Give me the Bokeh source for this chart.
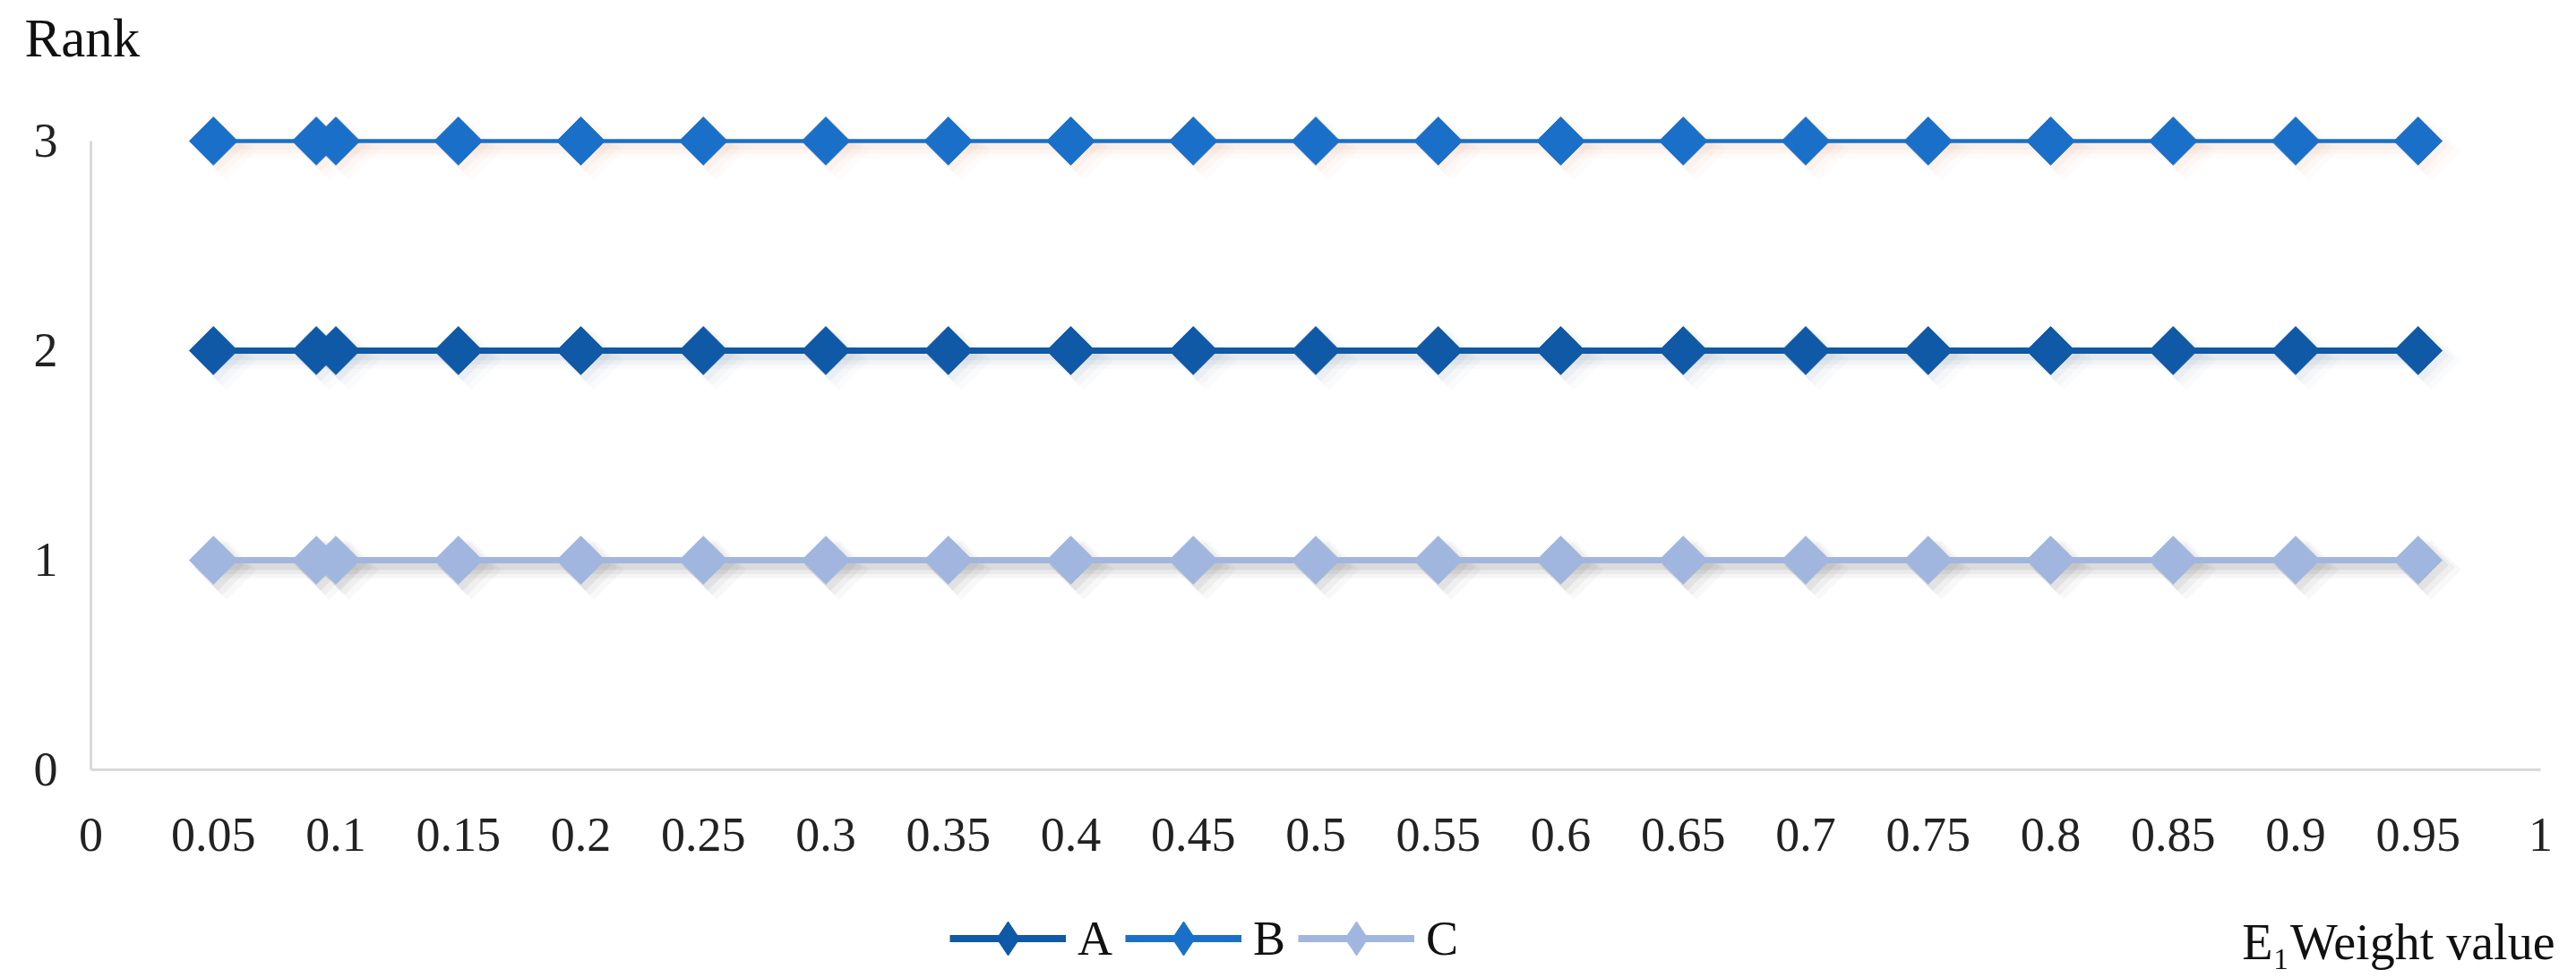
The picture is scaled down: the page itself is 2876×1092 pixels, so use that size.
import numpy as np
from bokeh.plotting import figure
from bokeh.models import (ColumnDataSource, Range1d, FixedTicker, Legend, LegendItem, Label)
from bokeh.transform import dodge
from bokeh.embed import file_html
from bokeh.resources import INLINE

# ---------------- data ----------------
weights = [0.05, 0.092, 0.1, 0.15, 0.2, 0.25, 0.3, 0.35, 0.4, 0.45, 0.5,
           0.55, 0.6, 0.65, 0.7, 0.75, 0.8, 0.85, 0.9, 0.95]
rank_A = [2, 2, 2, 2, 2, 2, 2, 2, 2, 2, 2, 2, 2, 2, 2, 2, 2, 2, 2, 2]
rank_B = [3, 3, 3, 3, 3, 3, 3, 3, 3, 3, 3, 3, 3, 3, 3, 3, 3, 3, 3, 3]
rank_C = [1, 1, 1, 1, 1, 1, 1, 1, 1, 1, 1, 1, 1, 1, 1, 1, 1, 1, 1, 1]
series_names = ["A", "B", "C"]
x_ticks = [0, 0.05, 0.1, 0.15, 0.2, 0.25, 0.3, 0.35, 0.4, 0.45, 0.5,
           0.55, 0.6, 0.65, 0.7, 0.75, 0.8, 0.85, 0.9, 0.95, 1]
x_tick_labels = ["0", "0.05", "0.1", "0.15", "0.2", "0.25", "0.3", "0.35", "0.4", "0.45", "0.5",
                 "0.55", "0.6", "0.65", "0.7", "0.75", "0.8", "0.85", "0.9", "0.95", "1"]
y_ticks = [0, 1, 2, 3]
x_title = "E\u2081Weight value"
y_title = "Rank"

colors = {"A": "#0F59A6", "B": "#1A70C8", "C": "#A1B6DF"}
shadow_colors = {"A": "#8C9DB8", "B": "#E8B89A", "C": "#555555"}
widths = {"A": 7, "B": 4.5, "C": 7}
FONT = "Liberation Serif"

# Frame covers the whole canvas; the axes sit at fixed data locations inside it.
p = figure(frame_width=2876, frame_height=1092, output_backend="svg", toolbar_location=None,
           x_range=Range1d(-0.03693, 1.01463), y_range=Range1d(-0.99573, 3.6709),
           min_border_left=0, min_border_right=0, min_border_top=0, min_border_bottom=0)
p.outline_line_color = None
p.xgrid.visible = False
p.ygrid.visible = False
p.background_fill_color = "white"
p.border_fill_color = "white"

for ax in (p.xaxis[0], p.yaxis[0]):
    ax.fixed_location = 0
    ax.axis_line_color = "#D9D9D9"
    ax.axis_line_width = 3
    ax.major_tick_line_color = None
    ax.minor_tick_line_color = None
    ax.major_label_text_font = FONT
    ax.major_label_text_font_size = "54px"
    ax.major_label_text_color = "#222222"

p.xaxis.ticker = FixedTicker(ticks=x_ticks)
p.xaxis.major_label_overrides = {t: l for t, l in zip(x_ticks, x_tick_labels)}
p.xaxis.bounds = (0, 1)
p.xaxis.major_label_standoff = 49
p.yaxis.ticker = FixedTicker(ticks=y_ticks)
p.yaxis.bounds = (0, 3)
p.yaxis.major_label_standoff = 31

data = {"A": rank_A, "B": rank_B, "C": rank_C}
for name in series_names:
    src = ColumnDataSource(dict(x=weights, y=data[name]))
    # soft drop shadow (several translucent layers)
    for k, a in ((1, 0.10), (2, 0.07), (3, 0.05)):
        p.line(dodge("x", 0.0012 * k, range=p.x_range), dodge("y", -0.012 * k - 0.01, range=p.y_range),
               source=src, line_color=shadow_colors[name], line_alpha=a,
               line_width=widths[name] + 4 * k)
        p.scatter(dodge("x", 0.0018 * k, range=p.x_range), dodge("y", -0.012 * k - 0.01, range=p.y_range),
                  source=src, marker="square", size=38 + 3 * k, angle=np.pi / 4,
                  fill_color=shadow_colors[name], fill_alpha=a * 0.8, line_color=None)
for name in series_names:
    src = ColumnDataSource(dict(x=weights, y=data[name]))
    p.line("x", "y", source=src, line_color=colors[name], line_width=widths[name])
    p.scatter("x", "y", source=src, marker="square", size=38, angle=np.pi / 4,
              fill_color=colors[name], line_color=colors[name], line_width=1)

# legend proxies (a point far outside the visible range, so only the legend shows them)
items = []
for name in series_names:
    proxy = ColumnDataSource(dict(x=[-5], y=[-5]))
    lr = p.line("x", "y", source=proxy, line_color=colors[name], line_width=8)
    sr = p.scatter("x", "y", source=proxy, marker="diamond", size=38,
                   fill_color=colors[name], line_color=colors[name])
    items.append(LegendItem(label=name, renderers=[lr, sr]))

legend = Legend(items=items, orientation="horizontal", location=(1060, -3),
                glyph_width=130, glyph_height=95, label_standoff=13, spacing=14,
                padding=0, margin=0, border_line_color=None, background_fill_alpha=0,
                label_text_font=FONT, label_text_font_size="54px", label_text_color="#111111")
p.add_layout(legend, "center")

p.add_layout(Label(x=27, y=1050, x_units="screen", y_units="screen", text=y_title,
                   text_font=FONT, text_font_size="61px", text_color="#111111",
                   text_baseline="alphabetic", text_align="left"))
p.add_layout(Label(x=2852, y=41, x_units="screen", y_units="screen", text=x_title,
                   text_font=FONT, text_font_size="56px", text_color="#111111",
                   text_baseline="alphabetic", text_align="right"))

open("out.html", "w").write(file_html(p, INLINE))
